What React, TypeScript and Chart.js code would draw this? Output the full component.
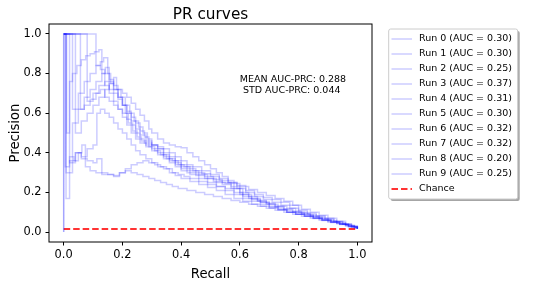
import React, { useEffect, useRef } from "react";
import { Chart, registerables } from "chart.js";

Chart.register(...registerables);

const runAuc = ["0.30", "0.30", "0.25", "0.37", "0.31", "0.30", "0.32", "0.32", "0.20", "0.25"];
const tickValues = [0, 0.2, 0.4, 0.6, 0.8, 1.0];
const chanceLevel = 0.015;
const meanAuc = "0.288";
const stdAuc = "0.044";

// [recall, precision] pairs
const run0: [number, number][] = [[0, 1.0], [0.01, 0.5], [0.02, 0.76], [0.03, 0.8], [0.045, 0.84], [0.06, 0.87], [0.075, 0.89], [0.09, 0.9], [0.105, 0.91], [0.12, 0.92], [0.13, 0.8], [0.14, 0.74], [0.155, 0.7], [0.17, 0.66], [0.185, 0.62], [0.2, 0.58], [0.215, 0.54], [0.23, 0.5], [0.245, 0.47], [0.26, 0.45], [0.28, 0.43], [0.3, 0.41], [0.32, 0.39], [0.34, 0.37], [0.36, 0.35], [0.38, 0.33], [0.4, 0.31], [0.43, 0.29], [0.46, 0.27], [0.49, 0.25], [0.52, 0.23], [0.55, 0.21], [0.58, 0.19], [0.61, 0.17], [0.64, 0.155], [0.67, 0.14], [0.7, 0.125], [0.73, 0.115], [0.76, 0.1], [0.79, 0.09], [0.82, 0.08], [0.85, 0.07], [0.88, 0.06], [0.91, 0.05], [0.94, 0.04], [0.97, 0.03], [1.0, 0.017]];
const run1: [number, number][] = [[0, 0], [0, 1.0], [0.03, 0.62], [0.05, 0.7], [0.07, 0.76], [0.09, 0.8], [0.11, 0.84], [0.125, 0.86], [0.136, 0.88], [0.15, 0.8], [0.16, 0.75], [0.17, 0.72], [0.185, 0.68], [0.2, 0.64], [0.21, 0.6], [0.22, 0.55], [0.235, 0.51], [0.25, 0.48], [0.265, 0.46], [0.28, 0.44], [0.3, 0.42], [0.32, 0.4], [0.34, 0.38], [0.36, 0.36], [0.38, 0.34], [0.4, 0.32], [0.42, 0.3], [0.45, 0.285], [0.48, 0.27], [0.51, 0.255], [0.54, 0.24], [0.57, 0.22], [0.6, 0.19], [0.63, 0.17], [0.66, 0.155], [0.69, 0.14], [0.72, 0.125], [0.75, 0.11], [0.78, 0.1], [0.81, 0.09], [0.84, 0.078], [0.87, 0.066], [0.9, 0.055], [0.93, 0.044], [0.96, 0.032], [0.99, 0.022], [1.0, 0.017]];
const run2: [number, number][] = [[0, 1.0], [0.02, 0.35], [0.04, 0.4], [0.06, 0.38], [0.08, 0.42], [0.1, 0.44], [0.113, 0.6], [0.125, 0.62], [0.14, 0.6], [0.155, 0.58], [0.17, 0.55], [0.185, 0.52], [0.2, 0.5], [0.215, 0.47], [0.23, 0.44], [0.245, 0.41], [0.26, 0.39], [0.28, 0.37], [0.3, 0.35], [0.32, 0.33], [0.34, 0.32], [0.36, 0.3], [0.38, 0.285], [0.4, 0.27], [0.43, 0.255], [0.46, 0.24], [0.49, 0.225], [0.52, 0.21], [0.55, 0.19], [0.58, 0.17], [0.61, 0.155], [0.64, 0.14], [0.67, 0.13], [0.7, 0.12], [0.73, 0.11], [0.76, 0.1], [0.79, 0.09], [0.82, 0.08], [0.85, 0.07], [0.88, 0.06], [0.91, 0.05], [0.94, 0.04], [0.97, 0.028], [1.0, 0.017]];
const run3: [number, number][] = [[0, 1.0], [0.11, 0.84], [0.125, 0.82], [0.14, 0.8], [0.155, 0.77], [0.17, 0.74], [0.185, 0.72], [0.2, 0.7], [0.215, 0.68], [0.23, 0.65], [0.245, 0.62], [0.26, 0.59], [0.275, 0.56], [0.29, 0.52], [0.3, 0.5], [0.32, 0.47], [0.34, 0.45], [0.36, 0.44], [0.38, 0.43], [0.4, 0.425], [0.42, 0.4], [0.44, 0.38], [0.46, 0.36], [0.48, 0.34], [0.5, 0.32], [0.52, 0.3], [0.54, 0.28], [0.56, 0.26], [0.58, 0.245], [0.6, 0.23], [0.63, 0.215], [0.66, 0.2], [0.69, 0.185], [0.72, 0.17], [0.75, 0.155], [0.78, 0.135], [0.81, 0.115], [0.84, 0.1], [0.87, 0.085], [0.9, 0.07], [0.93, 0.055], [0.96, 0.04], [0.98, 0.028], [1.0, 0.017]];
const run4: [number, number][] = [[0, 1.0], [0.008, 0.3], [0.03, 0.55], [0.05, 0.62], [0.07, 0.68], [0.09, 0.72], [0.11, 0.76], [0.13, 0.8], [0.142, 0.83], [0.155, 0.76], [0.17, 0.72], [0.185, 0.68], [0.2, 0.64], [0.215, 0.6], [0.23, 0.56], [0.245, 0.52], [0.26, 0.49], [0.28, 0.46], [0.3, 0.44], [0.32, 0.42], [0.34, 0.4], [0.36, 0.38], [0.38, 0.36], [0.4, 0.34], [0.42, 0.32], [0.45, 0.3], [0.48, 0.28], [0.51, 0.265], [0.54, 0.25], [0.57, 0.23], [0.6, 0.2], [0.63, 0.18], [0.66, 0.16], [0.69, 0.145], [0.72, 0.13], [0.75, 0.115], [0.78, 0.105], [0.81, 0.095], [0.84, 0.082], [0.87, 0.07], [0.9, 0.058], [0.93, 0.046], [0.96, 0.034], [0.99, 0.022], [1.0, 0.017]];
const run5: [number, number][] = [[0, 1.0], [0.04, 0.5], [0.06, 0.56], [0.08, 0.6], [0.1, 0.64], [0.12, 0.68], [0.14, 0.72], [0.155, 0.75], [0.17, 0.78], [0.18, 0.72], [0.195, 0.68], [0.21, 0.64], [0.225, 0.6], [0.24, 0.56], [0.255, 0.53], [0.27, 0.5], [0.285, 0.47], [0.3, 0.44], [0.32, 0.42], [0.34, 0.39], [0.36, 0.37], [0.38, 0.35], [0.4, 0.33], [0.43, 0.31], [0.46, 0.29], [0.49, 0.27], [0.52, 0.25], [0.55, 0.245], [0.58, 0.22], [0.61, 0.19], [0.64, 0.17], [0.67, 0.15], [0.7, 0.13], [0.73, 0.115], [0.76, 0.1], [0.79, 0.09], [0.82, 0.08], [0.85, 0.068], [0.88, 0.058], [0.91, 0.048], [0.94, 0.038], [0.97, 0.027], [1.0, 0.017]];
const run6: [number, number][] = [[0, 1.0], [0.057, 0.62], [0.07, 0.64], [0.09, 0.67], [0.11, 0.7], [0.125, 0.72], [0.14, 0.68], [0.155, 0.66], [0.17, 0.64], [0.185, 0.62], [0.2, 0.6], [0.215, 0.57], [0.23, 0.54], [0.245, 0.5], [0.26, 0.47], [0.275, 0.45], [0.29, 0.43], [0.31, 0.41], [0.33, 0.39], [0.35, 0.37], [0.37, 0.36], [0.39, 0.34], [0.41, 0.33], [0.44, 0.31], [0.47, 0.295], [0.5, 0.28], [0.53, 0.26], [0.56, 0.25], [0.59, 0.235], [0.62, 0.21], [0.65, 0.19], [0.68, 0.175], [0.71, 0.165], [0.74, 0.15], [0.77, 0.135], [0.8, 0.11], [0.83, 0.095], [0.86, 0.082], [0.89, 0.07], [0.92, 0.055], [0.95, 0.04], [0.98, 0.025], [1.0, 0.017]];
const run7: [number, number][] = [[0, 1.0], [0.08, 0.66], [0.1, 0.7], [0.12, 0.74], [0.14, 0.76], [0.155, 0.72], [0.17, 0.7], [0.185, 0.67], [0.2, 0.64], [0.215, 0.61], [0.23, 0.58], [0.245, 0.55], [0.26, 0.51], [0.275, 0.48], [0.29, 0.45], [0.3, 0.44], [0.32, 0.43], [0.34, 0.42], [0.36, 0.4], [0.38, 0.38], [0.4, 0.36], [0.42, 0.34], [0.44, 0.33], [0.47, 0.31], [0.5, 0.29], [0.53, 0.27], [0.56, 0.25], [0.59, 0.22], [0.62, 0.2], [0.65, 0.18], [0.68, 0.165], [0.71, 0.15], [0.74, 0.135], [0.77, 0.12], [0.8, 0.1], [0.83, 0.088], [0.86, 0.076], [0.89, 0.064], [0.92, 0.052], [0.95, 0.04], [0.98, 0.026], [1.0, 0.017]];
const run8: [number, number][] = [[0, 0], [0, 1.0], [0.008, 0.17], [0.02, 0.38], [0.035, 0.36], [0.05, 0.4], [0.062, 0.44], [0.074, 0.33], [0.09, 0.31], [0.11, 0.3], [0.13, 0.29], [0.15, 0.29], [0.17, 0.28], [0.19, 0.3], [0.21, 0.31], [0.23, 0.3], [0.25, 0.29], [0.27, 0.28], [0.29, 0.27], [0.31, 0.26], [0.33, 0.25], [0.35, 0.24], [0.37, 0.23], [0.39, 0.22], [0.42, 0.21], [0.45, 0.2], [0.48, 0.19], [0.51, 0.18], [0.54, 0.17], [0.57, 0.16], [0.6, 0.15], [0.63, 0.14], [0.66, 0.13], [0.69, 0.12], [0.72, 0.11], [0.75, 0.1], [0.78, 0.09], [0.81, 0.08], [0.84, 0.07], [0.87, 0.06], [0.9, 0.05], [0.93, 0.042], [0.96, 0.032], [0.99, 0.022], [1.0, 0.017]];
const run9: [number, number][] = [[0, 1.0], [0.005, 0.33], [0.02, 0.36], [0.04, 0.4], [0.06, 0.37], [0.08, 0.36], [0.1, 0.35], [0.113, 0.37], [0.13, 0.3], [0.15, 0.29], [0.17, 0.285], [0.19, 0.3], [0.21, 0.32], [0.23, 0.34], [0.25, 0.35], [0.27, 0.36], [0.29, 0.35], [0.31, 0.34], [0.33, 0.33], [0.35, 0.32], [0.37, 0.3], [0.39, 0.29], [0.41, 0.28], [0.43, 0.27], [0.46, 0.255], [0.49, 0.24], [0.52, 0.23], [0.55, 0.22], [0.58, 0.2], [0.61, 0.18], [0.64, 0.165], [0.67, 0.15], [0.7, 0.14], [0.73, 0.13], [0.76, 0.12], [0.79, 0.1], [0.82, 0.088], [0.85, 0.076], [0.88, 0.064], [0.91, 0.052], [0.94, 0.04], [0.97, 0.028], [1.0, 0.017]];

const runs = [run0, run1, run2, run3, run4, run5, run6, run7, run8, run9];

const FONT = "'DejaVu Sans', sans-serif";
const RUN_COLOR = "rgba(0,0,255,0.2)";
const CHANCE_COLOR = "rgba(255,0,0,0.8)";
const CHANCE_DASH = [6.5, 3];

const decorPlugin = {
  id: "decor",
  afterDatasetsDraw(chart: any) {
    const { ctx, chartArea } = chart;
    const { left, right, top, bottom } = chartArea;
    const xs = chart.scales.x;
    const ys = chart.scales.y;
    ctx.save();
    ctx.strokeStyle = "#000";
    ctx.lineWidth = 1;
    ctx.strokeRect(left, top, right - left, bottom - top);
    ctx.fillStyle = "#000";
    ctx.textAlign = "center";
    ctx.textBaseline = "alphabetic";
    ctx.font = `15.3px ${FONT}`;
    ctx.fillText("PR curves", (left + right) / 2, 19);
    ctx.font = `13.2px ${FONT}`;
    ctx.fillText("Recall", (left + right) / 2, 278);
    ctx.save();
    ctx.translate(19.3, (top + bottom) / 2);
    ctx.rotate(-Math.PI / 2);
    ctx.fillText("Precision", 0, 0);
    ctx.restore();
    ctx.font = `9.5px ${FONT}`;
    ctx.textAlign = "left";
    const ax = xs.getPixelForValue(0.6);
    const ay = ys.getPixelForValue(0.7);
    ctx.fillText(`MEAN AUC-PRC: ${meanAuc}`, ax, ay - 11);
    ctx.fillText(` STD AUC-PRC: ${stdAuc}`, ax, ay);

    const lx = 388.7, ly = 29, lw = 129, lh = 170;
    const r = 2;
    const roundRect = (x: number, y: number, w: number, h: number) => {
      ctx.beginPath();
      ctx.moveTo(x + r, y);
      ctx.lineTo(x + w - r, y);
      ctx.quadraticCurveTo(x + w, y, x + w, y + r);
      ctx.lineTo(x + w, y + h - r);
      ctx.quadraticCurveTo(x + w, y + h, x + w - r, y + h);
      ctx.lineTo(x + r, y + h);
      ctx.quadraticCurveTo(x, y + h, x, y + h - r);
      ctx.lineTo(x, y + r);
      ctx.quadraticCurveTo(x, y, x + r, y);
      ctx.closePath();
    };
    roundRect(lx + 2, ly + 2, lw, lh);
    ctx.fillStyle = "#a6a6a6";
    ctx.fill();
    roundRect(lx, ly, lw, lh);
    ctx.fillStyle = "#fff";
    ctx.fill();
    ctx.strokeStyle = "#cccccc";
    ctx.lineWidth = 1;
    ctx.stroke();
    ctx.textBaseline = "middle";
    ctx.font = `9.5px ${FONT}`;
    chart.data.datasets.forEach((ds: any, i: number) => {
      const cy = 39 + 15 * i;
      ctx.beginPath();
      ctx.moveTo(391.5, cy);
      ctx.lineTo(412, cy);
      ctx.strokeStyle = ds.borderColor;
      ctx.lineWidth = ds.borderWidth;
      ctx.setLineDash(ds.borderDash || []);
      ctx.stroke();
      ctx.setLineDash([]);
      ctx.fillStyle = "#000";
      ctx.fillText(ds.label, 419, cy);
    });
    ctx.restore();
  },
};

export default function App() {
  const ref = useRef<HTMLCanvasElement | null>(null);
  useEffect(() => {
    if (!ref.current) return;
    const datasets: any[] = runs.map((run, i) => ({
      label: `Run ${i} (AUC = ${runAuc[i]})`,
      data: run.map(([x, y]) => ({ x, y })),
      borderColor: RUN_COLOR,
      borderWidth: 1.5,
      pointRadius: 0,
      stepped: "before",
      fill: false,
    }));
    datasets.push({
      label: "Chance",
      data: [
        { x: 0, y: chanceLevel },
        { x: 1, y: chanceLevel },
      ],
      borderColor: CHANCE_COLOR,
      borderWidth: 2,
      borderDash: CHANCE_DASH,
      pointRadius: 0,
      fill: false,
    });
    const tickFont = { family: FONT, size: 11.4 };
    const chart = new Chart(ref.current, {
      type: "line",
      data: { datasets },
      options: {
        animation: false,
        responsive: false,
        devicePixelRatio: 1,
        layout: { padding: { top: 24, right: 171, bottom: 0, left: 0 } },
        plugins: { legend: { display: false }, tooltip: { enabled: false }, title: { display: false } },
        scales: {
          x: {
            type: "linear",
            min: -0.05,
            max: 1.05,
            afterBuildTicks: (s: any) => {
              s.ticks = tickValues.map((v) => ({ value: v }));
            },
            afterFit: (s: any) => {
              s.height = 45;
            },
            ticks: { color: "#000", font: tickFont, padding: 3, maxRotation: 0, callback: (v: any) => Number(v).toFixed(1) },
            grid: { display: true, drawOnChartArea: false, drawTicks: true, tickLength: 3.5, color: "#000" },
            border: { display: false },
          },
          y: {
            type: "linear",
            min: -0.05,
            max: 1.05,
            afterBuildTicks: (s: any) => {
              s.ticks = tickValues.map((v) => ({ value: v }));
            },
            afterFit: (s: any) => {
              s.width = 49;
            },
            ticks: { color: "#000", font: tickFont, padding: 4, callback: (v: any) => Number(v).toFixed(1) },
            grid: { display: true, drawOnChartArea: false, drawTicks: true, tickLength: 3.5, color: "#000" },
            border: { display: false },
          },
        },
      } as any,
      plugins: [decorPlugin],
    });
    return () => chart.destroy();
  }, []);
  return (
    <div style={{ position: "fixed", left: 0, top: 0, width: 543, height: 287, background: "#fff" }}>
      <canvas ref={ref} width={543} height={287} style={{ width: 543, height: 287 }} />
    </div>
  );
}
